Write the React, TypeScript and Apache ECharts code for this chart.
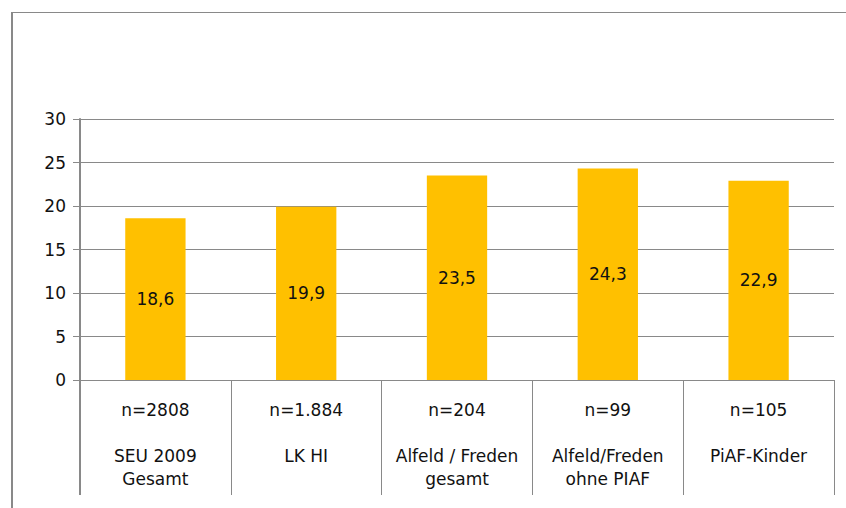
import React, { useEffect, useRef } from "react";
import * as echarts from "echarts";

// Sample sizes and group names shown beneath each column
const sampleSizes = ["n=2808", "n=1.884", "n=204", "n=99", "n=105"];
const groupNames = [
  "SEU 2009\nGesamt",
  "LK HI",
  "Alfeld / Freden\ngesamt",
  "Alfeld/Freden\nohne PIAF",
  "PiAF-Kinder",
];
// Percentages per group
const values = [18.6, 19.9, 23.5, 24.3, 22.9];
const yTicks = { min: 0, max: 30, interval: 5 };

const categories = sampleSizes.map((n, i) => `${n}\n\n${groupNames[i]}`);

const GRAY = "#898989";
const FONT = "DejaVu Sans";
const FS = 17;

export default function App() {
  const ref = useRef<HTMLDivElement>(null);

  useEffect(() => {
    document.body.style.margin = "0";
    if (!ref.current) return;
    const chart = echarts.init(ref.current, undefined, { renderer: "svg" });
    chart.setOption({
      animation: false,
      backgroundColor: "#ffffff",
      textStyle: { fontFamily: FONT },
      grid: { left: 80, right: 12, top: 119, bottom: 128, containLabel: false },
      xAxis: {
        type: "category",
        data: categories,
        axisLine: { show: true, lineStyle: { color: GRAY, width: 1 } },
        axisTick: {
          show: true,
          length: 115,
          lineStyle: { color: GRAY, width: 1 },
        },
        axisLabel: {
          interval: 0,
          margin: 18,
          fontSize: FS,
          lineHeight: 23,
          color: "#111",
          fontFamily: FONT,
          align: "center",
        },
      },
      yAxis: {
        type: "value",
        min: yTicks.min,
        max: yTicks.max,
        interval: yTicks.interval,
        axisLine: { show: true, lineStyle: { color: GRAY, width: 2 } },
        axisTick: { show: true, length: 7, lineStyle: { color: GRAY, width: 1 } },
        axisLabel: { margin: 14, fontSize: FS, color: "#111", fontFamily: FONT },
        splitLine: { show: true, lineStyle: { color: GRAY, width: 1 } },
      },
      series: [
        {
          type: "bar",
          data: values,
          barWidth: "40%",
          itemStyle: { color: "#FFC000" },
          label: {
            show: true,
            position: "inside",
            fontSize: FS,
            color: "#111",
            fontFamily: FONT,
            formatter: (p: any) => String(p.value).replace(".", ","),
          },
        },
      ],
      graphic: [
        // outer frame, left and top edges
        {
          type: "line",
          shape: { x1: 12, y1: 12.5, x2: 12, y2: 508 },
          style: { stroke: GRAY, lineWidth: 2 },
        },
        {
          type: "line",
          shape: { x1: 11, y1: 12.5, x2: 846, y2: 12.5 },
          style: { stroke: GRAY, lineWidth: 1 },
        },
        // value axis continues down through the label table
        {
          type: "line",
          shape: { x1: 80, y1: 380, x2: 80, y2: 495 },
          style: { stroke: GRAY, lineWidth: 2 },
        },
      ],
    });
    return () => chart.dispose();
  }, []);

  return <div ref={ref} style={{ width: 846, height: 508 }} />;
}
